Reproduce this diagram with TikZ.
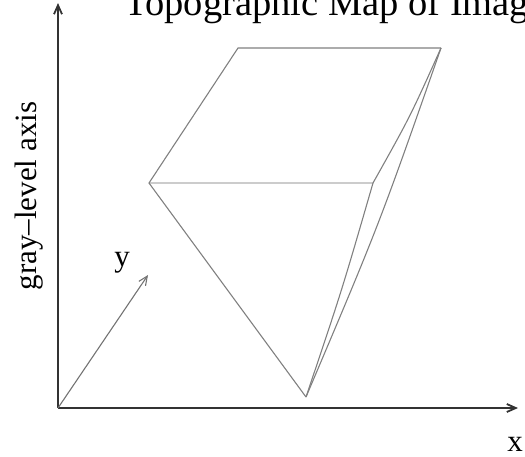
\documentclass[tikz,border=0pt]{standalone}
\usepackage{fontspec}
\setmainfont{Liberation Serif}
\usetikzlibrary{arrows.meta}

\begin{document}
\begin{tikzpicture}[x=1pt,y=-1pt,
  >={Straight Barb[length=9pt,width=8pt]},
  axis/.style={->, line width=1.8pt, draw=black!80},
  edge/.style={line width=1.1pt, draw=black!50},
  faint/.style={line width=2pt, draw=black!20},
  lbl/.style={font=\fontsize{31}{33}\selectfont}]
\useasboundingbox (0,0) rectangle (525,456);
\clip (0,0) rectangle (525,456);
% axes
\coordinate (O) at (58,408);
\coordinate (xend) at (518,408);
\coordinate (zend) at (58,3);
\coordinate (yend) at (148,275);
\draw[axis] (O) -- (xend);
\draw[axis] (O) -- (zend);
\draw[->, line width=1.1pt, draw=black!55] (O) -- (yend);
\node[lbl] (xlab) at (515,444) {x};
\node[lbl] (ylab) at (122,263) {y};
\node[lbl, rotate=90] (zlab) at (29,196) {gray--level axis};
\node[anchor=base west, font=\fontsize{38.5}{40}\selectfont] (title) at (121,15) {Topographic Map of Image};
% the surface
\coordinate (A) at (149,183);
\coordinate (B) at (238,48);
\coordinate (C) at (441,48);
\coordinate (D) at (373,183);
\coordinate (E) at (306,397);
\draw[faint] (A) -- (D);
\draw[edge] (E) -- (A) -- (B) -- (C);
\draw[edge] (C) .. controls (410,117) .. (D);
\draw[edge] (D) .. controls (342,290) .. (E);
\draw[edge] (C) .. controls (379,225) .. (E);
\end{tikzpicture}
\end{document}
